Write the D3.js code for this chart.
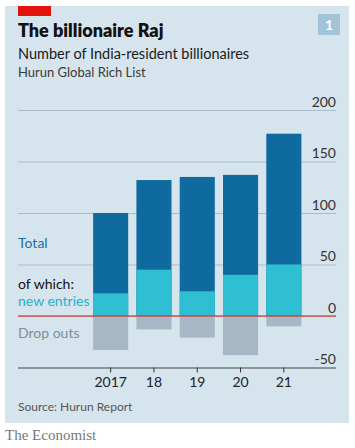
<!DOCTYPE html>
<html><head><meta charset="utf-8">
<script src="https://cdn.jsdelivr.net/npm/d3@7"></script>
<style>
html,body{margin:0;padding:0;background:#fff;}
svg{display:block;}
</style></head>
<body>
<svg id="chart" width="355" height="448"></svg>
<script>
const years = ["2017", "18", "19", "20", "21"];
const totals = [100, 132, 135, 137, 177];
const newEntries = [22, 45, 24, 40, 50];
const dropOuts = [-33, -13, -21, -38, -10];
const yTicks = [-50, 0, 50, 100, 150, 200];

const font = "Lato, 'Open Sans', sans-serif";
const svg = d3.select("#chart");

// panel background
svg.append("rect").attr("x", 5).attr("y", 6).attr("width", 344).attr("height", 417).attr("fill", "#d6e4ed");
svg.append("rect").attr("x", 18).attr("y", 6).attr("width", 33).attr("height", 10).attr("fill", "#e3120b");

// chart number box
svg.append("rect").attr("x", 318).attr("y", 14).attr("width", 22).attr("height", 21).attr("fill", "#a3c4d8");
svg.append("text").attr("x", 329).attr("y", 30).attr("text-anchor", "middle")
  .attr("font-family", font).attr("font-weight", "bold").attr("font-size", 14).attr("fill", "#fff").text("1");

// titles
svg.append("text").attr("x", 18).attr("y", 37).attr("font-family", font).attr("font-weight", 800)
  .attr("font-size", 18).attr("fill", "#111").text("The billionaire Raj");
svg.append("text").attr("x", 18).attr("y", 59).attr("font-family", font)
  .attr("font-size", 14.5).attr("fill", "#1a1a1a").text("Number of India-resident billionaires");
svg.append("text").attr("x", 18).attr("y", 77).attr("font-family", font)
  .attr("font-size", 13).attr("fill", "#3a3a3a").text("Hurun Global Rich List");

const x = d3.scaleBand().domain(years).range([89, 305.5]).paddingInner(0.19).paddingOuter(0.095);
const y = d3.scaleLinear().domain([-50, 200]).range([367.5, 110]);

// gridlines + labels
const yAxis = d3.axisRight(y).tickValues(yTicks).tickSize(0).tickFormat(d => String(d));
const gy = svg.append("g").call(yAxis);
gy.select(".domain").remove();
gy.selectAll(".tick line").remove();
gy.selectAll(".tick").each(function(d) {
  d3.select(this).insert("line", "text").attr("x1", 18).attr("x2", 336).attr("y1", 0).attr("y2", 0)
    .attr("stroke", d === -50 ? "#444" : "#a9bccb").attr("stroke-width", 1);
});
gy.selectAll(".tick text").attr("x", 336).attr("dy", -4).attr("text-anchor", "end")
  .attr("font-family", font).attr("font-size", 14).attr("fill", "#333");

// bars
const data = years.map((yr, i) => ({yr, total: totals[i], nw: newEntries[i], drop: dropOuts[i]}));
const g = svg.append("g");
g.selectAll(".tot").data(data).join("rect").attr("class", "tot")
  .attr("x", d => x(d.yr)).attr("width", x.bandwidth())
  .attr("y", d => y(d.total)).attr("height", d => y(0) - y(d.total)).attr("fill", "#0f6a9f");
g.selectAll(".nw").data(data).join("rect").attr("class", "nw")
  .attr("x", d => x(d.yr)).attr("width", x.bandwidth())
  .attr("y", d => y(d.nw)).attr("height", d => y(0) - y(d.nw)).attr("fill", "#2ebfd3");
g.selectAll(".drop").data(data).join("rect").attr("class", "drop")
  .attr("x", d => x(d.yr)).attr("width", x.bandwidth())
  .attr("y", y(0)).attr("height", d => y(d.drop) - y(0)).attr("fill", "#a6b8c5");

// zero line
svg.append("line").attr("x1", 18).attr("x2", 336).attr("y1", y(0)).attr("y2", y(0))
  .attr("stroke", "#e3120b").attr("stroke-width", 1);

// x axis
const xAxis = d3.axisBottom(x).tickSize(5).tickPadding(5);
const gx = svg.append("g").attr("transform", `translate(0,${y(-50)})`).call(xAxis);
gx.select(".domain").remove();
gx.selectAll(".tick line").attr("stroke", "#333");
gx.selectAll(".tick text").attr("font-family", font).attr("font-size", 14).attr("fill", "#222");

// series labels
const lab = (t, yy, c) => svg.append("text").attr("x", 18).attr("y", yy).attr("font-family", font)
  .attr("font-size", 14).attr("fill", c).text(t);
lab("Total", 248, "#1d6da3");
lab("of which:", 289, "#111");
lab("new entries", 306, "#22b2cb");
lab("Drop outs", 338, "#7f8f9b");

// source
svg.append("text").attr("x", 18).attr("y", 411).attr("font-family", font)
  .attr("font-size", 12).attr("fill", "#555").text("Source: Hurun Report");
svg.append("text").attr("x", 5).attr("y", 440).attr("font-family", "'Liberation Serif', 'DejaVu Serif', serif")
  .attr("font-size", 15).attr("fill", "#777").text("The Economist");
</script>
</body></html>
